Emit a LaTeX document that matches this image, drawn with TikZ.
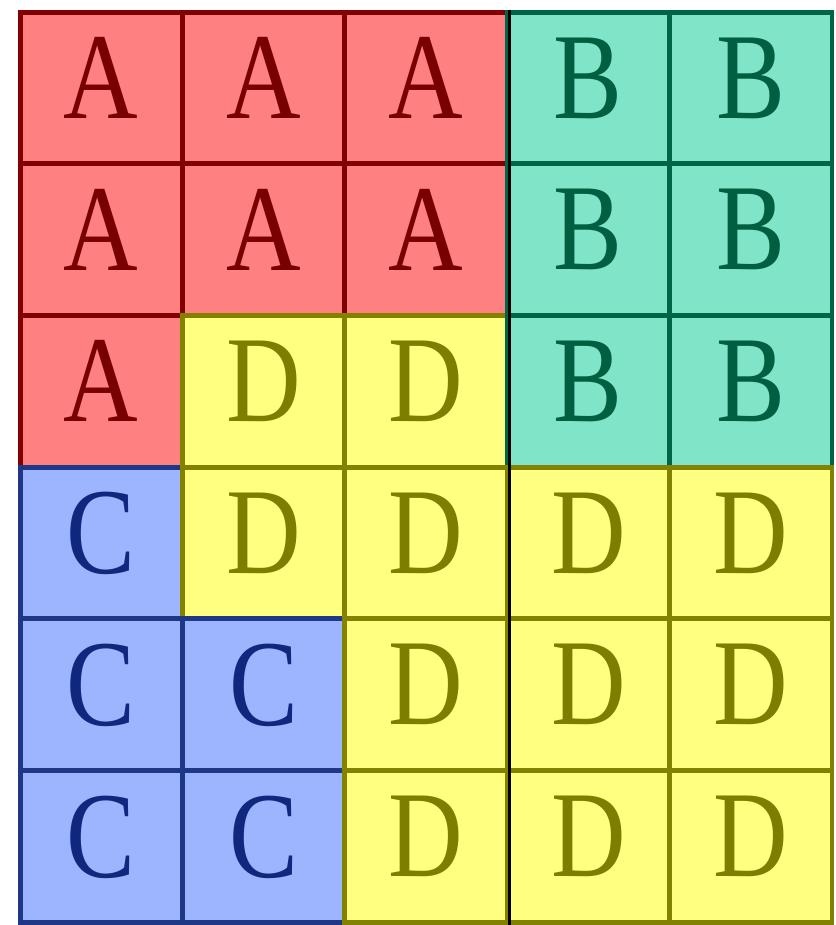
\documentclass[tikz,border=0pt]{standalone}
\usepackage{fontspec}
\setmainfont{Liberation Serif}[FakeStretch=0.84]
\usepackage{xcolor}
\usetikzlibrary{positioning}
\definecolor{redfill}{RGB}{255,128,128}
\definecolor{redline}{RGB}{130,0,0}
\definecolor{redtext}{RGB}{120,0,0}
\definecolor{aquafill}{RGB}{128,229,200}
\definecolor{aqualine}{RGB}{0,100,70}
\definecolor{aquatext}{RGB}{0,95,65}
\definecolor{bluefill}{RGB}{157,180,255}
\definecolor{blueline}{RGB}{30,55,135}
\definecolor{bluetext}{RGB}{15,40,125}
\definecolor{yelfill}{RGB}{255,255,128}
\definecolor{yelline}{RGB}{130,130,0}
\definecolor{yeltext}{RGB}{125,125,0}

\tikzset{
  cell/.style={rectangle,minimum width=3.248cm,minimum height=3.034cm,
    inner sep=0pt,line width=0.1cm,text depth=0.4cm,
    font=\fontsize{70}{70}\selectfont},
  cellA/.style={fill=redfill,draw=redline,text=redtext},
  cellB/.style={fill=aquafill,draw=aqualine,text=aquatext},
  cellC/.style={fill=bluefill,draw=blueline,text=bluetext},
  cellD/.style={fill=yelfill,draw=yelline,text=yeltext},
  divider/.style={black,line width=0.07cm}
}

\begin{document}
\begin{tikzpicture}[x=0.02cm,y=-0.02cm]
  \useasboundingbox[fill=white] (0,0) rectangle (835,925);
  % grid of cells, row by row
  \foreach \row [count=\r] in {{A,A,A,B,B},{A,A,A,B,B},{A,D,D,B,B},
                               {C,D,D,D,D},{C,C,D,D,D},{C,C,D,D,D}} {
    \foreach \k [count=\c] in \row {
      \node[cell,cell\k] (cell-\r-\c)
        at ({20+(\c-0.5)*162.4},{12+(\r-0.5)*151.7}) {\k};
    }
  }
  \draw[divider] (cell-1-3.north east) -- (cell-6-3.south east);
\end{tikzpicture}
\end{document}
